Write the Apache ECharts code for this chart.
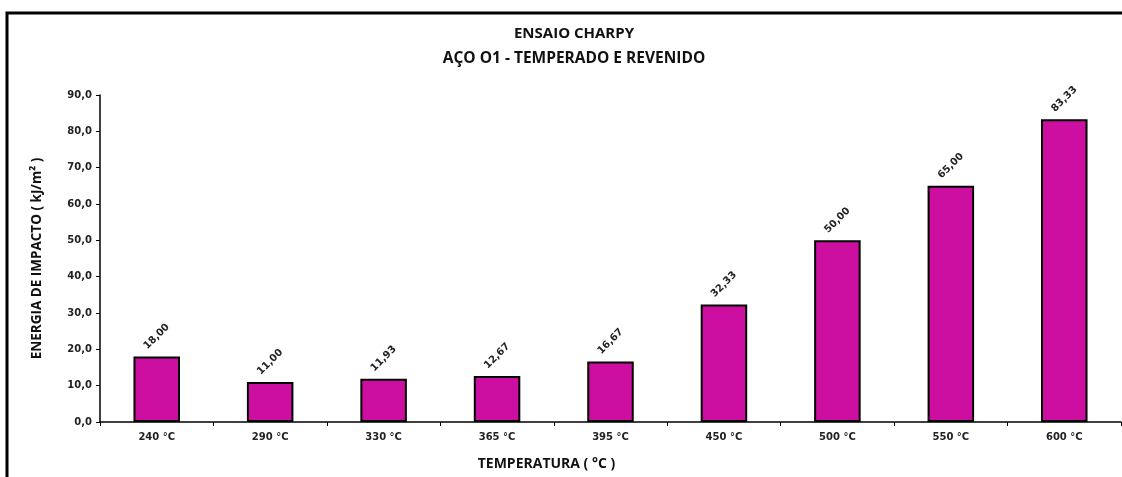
<!DOCTYPE html>
<html>
<head>
<meta charset="utf-8">
<script src="https://cdn.jsdelivr.net/npm/echarts@6/dist/echarts.min.js"></script>
<style>
html,body{margin:0;padding:0;background:#fff;}
#chart{width:1122px;height:477px;}
</style>
</head>
<body>
<div id="chart"></div>
<script>
const categories = ['240 °C','290 °C','330 °C','365 °C','395 °C','450 °C','500 °C','550 °C','600 °C'];
const energyValues = [18.00, 11.00, 11.93, 12.67, 16.67, 32.33, 50.00, 65.00, 83.33];
const yTicks = {min: 0, max: 90, interval: 10};
const titleText = 'ENSAIO CHARPY';
const subtitleText = 'AÇO O1 - TEMPERADO E REVENIDO';
const yAxisName = 'ENERGIA DE IMPACTO ( kJ/m² )';
const xAxisName = 'TEMPERATURA ( °C )';

const chart = echarts.init(document.getElementById('chart'), null, {renderer:'canvas'});
const fmt = v => v.toFixed(1).replace('.', ',');
chart.setOption({
  animation:false,
  backgroundColor:'#ffffff',
  graphic:[{
    type:'rect', shape:{x:7, y:13, width:1200, height:600},
    style:{fill:'none', stroke:'#000', lineWidth:3}, silent:true
  }],
  title:{
    text:titleText, subtext:subtitleText, left:569, textAlign:'center', top:21, itemGap:10,
    textStyle:{fontFamily:'Open Sans', fontWeight:'bold', fontSize:15, color:'#111'},
    subtextStyle:{fontFamily:'Open Sans', fontWeight:'bold', fontSize:15.5, color:'#111'}
  },
  grid:{left:100, right:1, top:95, bottom:55, containLabel:false},
  xAxis:{
    type:'category', data:categories,
    name:xAxisName, nameLocation:'middle', nameGap:35,
    nameTextStyle:{fontFamily:'Open Sans', fontWeight:'bold', fontSize:14, color:'#111', padding:[0,128,0,0]},
    axisLine:{lineStyle:{color:'#000', width:1.5}},
    axisTick:{show:true, length:4, lineStyle:{color:'#000'}},
    axisLabel:{fontFamily:'DejaVu Sans', fontWeight:'bold', fontSize:10, color:'#222', margin:10},
    splitLine:{show:false}
  },
  yAxis:{
    type:'value', min:yTicks.min, max:yTicks.max, interval:yTicks.interval,
    name:yAxisName, nameLocation:'middle', nameGap:56, nameRotate:90,
    nameTextStyle:{fontFamily:'Open Sans', fontWeight:'bold', fontSize:13.5, color:'#111'},
    axisLine:{show:true, lineStyle:{color:'#000', width:1.5}},
    axisTick:{show:true, length:4, lineStyle:{color:'#000'}},
    axisLabel:{fontFamily:'DejaVu Sans', fontWeight:'bold', fontSize:10, color:'#222', margin:8, formatter:fmt},
    splitLine:{show:false}
  },
  series:[{
    type:'bar', data:energyValues, barWidth:'41%',
    itemStyle:{color:'#CC0FA0', borderColor:'#000', borderWidth:2},
    label:{
      show:true, position:'top', distance:20, rotate:45, align:'center', verticalAlign:'middle',
      fontFamily:'DejaVu Sans', fontWeight:'bold', fontSize:10, color:'#222',
      formatter:p => p.value.toFixed(2).replace('.', ',')
    }
  }]
});
</script>
</body>
</html>
